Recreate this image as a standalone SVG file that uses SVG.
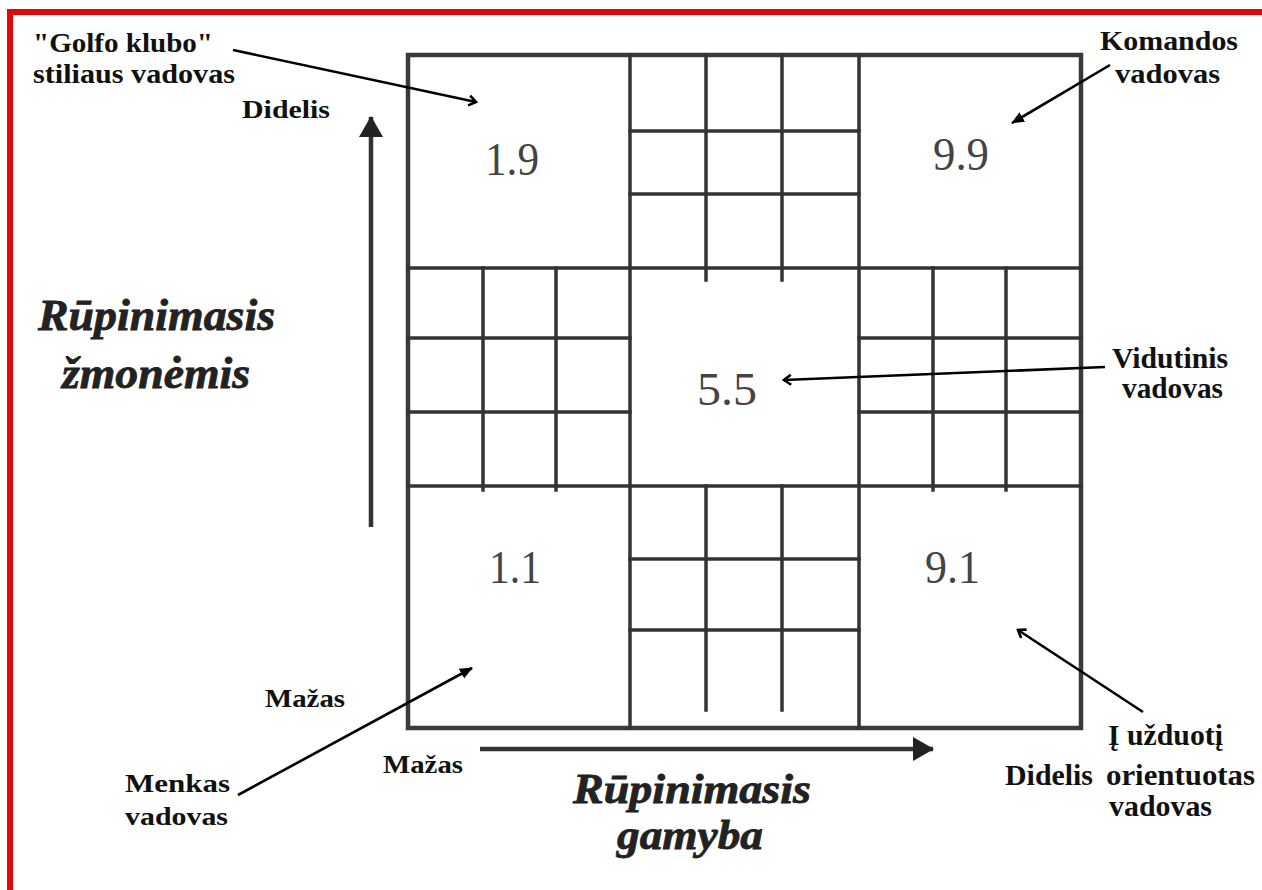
<svg xmlns="http://www.w3.org/2000/svg" width="1262" height="890" viewBox="0 0 1262 890">
  <style>
    .grid line { stroke: #333; stroke-width: 3.5; stroke-linecap: square; }
    .outer { fill: none; stroke: #3a3a3a; stroke-width: 4.5; }
    .lbl { font-family: "Liberation Serif", "Times New Roman", serif; font-weight: bold; fill: #111; }
    .num { font-family: "Liberation Serif", "Times New Roman", serif; font-size: 46px; fill: #444; }
    .axis { font-family: "Liberation Serif", "Times New Roman", serif; font-weight: bold; font-style: italic; fill: #222; stroke: #222; stroke-width: 0.8; }
    .ann { stroke: #000; stroke-width: 2.6; fill: none; }
    .axisline { stroke: #333; stroke-width: 4.5; fill: none; }
  </style>
  <defs>
    <marker id="open" markerWidth="12" markerHeight="12" refX="9" refY="6" orient="auto" markerUnits="userSpaceOnUse">
      <path d="M2,1 L9,6 L2,11" fill="none" stroke="#000" stroke-width="2.6"/>
    </marker>
    <marker id="solid" markerWidth="14" markerHeight="12" refX="12" refY="6" orient="auto" markerUnits="userSpaceOnUse">
      <path d="M0,0.5 L13,6 L0,11.5 Z" fill="#000"/>
    </marker>
    <marker id="axishead" markerWidth="24" markerHeight="24" refX="20" refY="12" orient="auto" markerUnits="userSpaceOnUse">
      <path d="M0,0 L21,12 L0,24 Z" fill="#222"/>
    </marker>
  </defs>

  <rect x="0" y="0" width="1262" height="890" fill="#fff"/>

  <g id="frame">
    <rect x="7" y="9" width="1255" height="6" fill="#e00808"/>
    <rect x="7" y="9" width="6" height="881" fill="#e00808"/>
  </g>

  <g id="grid" class="grid">
    <rect class="outer" x="408" y="55" width="673" height="673"/>
    <!-- main dividers -->
    <line x1="630" y1="55" x2="630" y2="728"/>
    <line x1="859" y1="55" x2="859" y2="728"/>
    <line x1="408" y1="268" x2="1081" y2="268"/>
    <line x1="408" y1="486" x2="1081" y2="486"/>
    <!-- top middle block -->
    <line x1="630" y1="131" x2="859" y2="131"/>
    <line x1="630" y1="194" x2="859" y2="194"/>
    <line x1="706" y1="55" x2="706" y2="280"/>
    <line x1="782" y1="55" x2="782" y2="280"/>
    <!-- middle left block -->
    <line x1="408" y1="338" x2="630" y2="338"/>
    <line x1="408" y1="412" x2="630" y2="412"/>
    <line x1="483" y1="268" x2="483" y2="490"/>
    <line x1="556" y1="268" x2="556" y2="490"/>
    <!-- middle right block -->
    <line x1="859" y1="338" x2="1081" y2="338"/>
    <line x1="859" y1="412" x2="1081" y2="412"/>
    <line x1="933" y1="268" x2="933" y2="490"/>
    <line x1="1006" y1="268" x2="1006" y2="490"/>
    <!-- bottom middle block -->
    <line x1="630" y1="559" x2="859" y2="559"/>
    <line x1="630" y1="630" x2="859" y2="630"/>
    <line x1="706" y1="486" x2="706" y2="710"/>
    <line x1="782" y1="486" x2="782" y2="710"/>
  </g>

  <g id="cell-1-9"><text class="num" x="485" y="175" textLength="54" lengthAdjust="spacingAndGlyphs">1.9</text></g>
  <g id="cell-9-9"><text class="num" x="933" y="170" textLength="56" lengthAdjust="spacingAndGlyphs">9.9</text></g>
  <g id="cell-5-5"><text class="num" x="697" y="405" textLength="60" lengthAdjust="spacingAndGlyphs">5.5</text></g>
  <g id="cell-1-1"><text class="num" x="489" y="583" textLength="52" lengthAdjust="spacingAndGlyphs">1.1</text></g>
  <g id="cell-9-1"><text class="num" x="925" y="583" textLength="55" lengthAdjust="spacingAndGlyphs">9.1</text></g>

  <g id="axis-people">
    <text class="axis" x="38" y="330" font-size="44" textLength="237" lengthAdjust="spacingAndGlyphs">Rūpinimasis</text>
    <text class="axis" x="62" y="388" font-size="44" textLength="188" lengthAdjust="spacingAndGlyphs">žmonėmis</text>
    <text class="lbl" x="242" y="118" font-size="25" textLength="88" lengthAdjust="spacingAndGlyphs">Didelis</text>
    <text class="lbl" x="265" y="707" font-size="25" textLength="80" lengthAdjust="spacingAndGlyphs">Mažas</text>
  </g>

  <g id="axis-production">
    <text class="axis" x="573" y="803" font-size="42" textLength="238" lengthAdjust="spacingAndGlyphs">Rūpinimasis</text>
    <text class="axis" x="617" y="849" font-size="42" textLength="146" lengthAdjust="spacingAndGlyphs">gamyba</text>
    <text class="lbl" x="383" y="773" font-size="25" textLength="80" lengthAdjust="spacingAndGlyphs">Mažas</text>
    <text class="lbl" x="1005" y="785" font-size="30" textLength="88" lengthAdjust="spacingAndGlyphs">Didelis</text>
  </g>

  <g id="label-golf">
    <text class="lbl" x="33" y="52" font-size="28" textLength="180" lengthAdjust="spacingAndGlyphs">"Golfo klubo"</text>
    <text class="lbl" x="33" y="83" font-size="28" textLength="202" lengthAdjust="spacingAndGlyphs">stiliaus vadovas</text>
  </g>
  <g id="label-team">
    <text class="lbl" x="1100" y="50" font-size="28" textLength="138" lengthAdjust="spacingAndGlyphs">Komandos</text>
    <text class="lbl" x="1115" y="83" font-size="28" textLength="105" lengthAdjust="spacingAndGlyphs">vadovas</text>
  </g>
  <g id="label-middle">
    <text class="lbl" x="1112" y="368" font-size="29" textLength="116" lengthAdjust="spacingAndGlyphs">Vidutinis</text>
    <text class="lbl" x="1122" y="398" font-size="29" textLength="101" lengthAdjust="spacingAndGlyphs">vadovas</text>
  </g>
  <g id="label-poor">
    <text class="lbl" x="125" y="792" font-size="25" textLength="105" lengthAdjust="spacingAndGlyphs">Menkas</text>
    <text class="lbl" x="125" y="825" font-size="25" textLength="103" lengthAdjust="spacingAndGlyphs">vadovas</text>
  </g>
  <g id="label-task">
    <text class="lbl" x="1108" y="745" font-size="29" textLength="115" lengthAdjust="spacingAndGlyphs">Į užduotį</text>
    <text class="lbl" x="1106" y="785" font-size="30" textLength="149" lengthAdjust="spacingAndGlyphs">orientuotas</text>
    <text class="lbl" x="1109" y="816" font-size="30" textLength="103" lengthAdjust="spacingAndGlyphs">vadovas</text>
  </g>

  <g id="connectors">
    <line class="axisline" x1="371" y1="527" x2="371" y2="117" marker-end="url(#axishead)"/>
    <line class="axisline" x1="480" y1="749" x2="933" y2="749" marker-end="url(#axishead)"/>
    <line class="ann" x1="233" y1="50" x2="476" y2="102" marker-end="url(#open)"/>
    <line class="ann" x1="1110" y1="65" x2="1012" y2="123" marker-end="url(#solid)"/>
    <line class="ann" x1="1105" y1="367" x2="784" y2="380" marker-end="url(#open)"/>
    <line class="ann" x1="238" y1="795" x2="472" y2="668" marker-end="url(#solid)"/>
    <line class="ann" x1="1143" y1="712" x2="1018" y2="630" marker-end="url(#open)"/>
  </g>
</svg>
